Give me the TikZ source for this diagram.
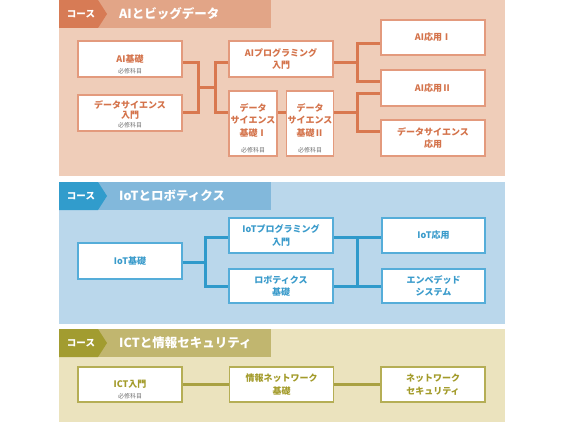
\documentclass[tikz,border=0pt]{standalone}
\usepackage{fontspec}
\setmainfont{Noto Sans CJK JP}
\usepackage{tikz}

\definecolor{aibg}{HTML}{EFCDB9}
\definecolor{aihead}{HTML}{E2A587}
\definecolor{aitab}{HTML}{D77B55}
\definecolor{aiwire}{HTML}{D9784F}
\definecolor{aiborder}{HTML}{E39A7D}
\definecolor{aitext}{HTML}{D4734B}
\definecolor{iotbg}{HTML}{BAD7EB}
\definecolor{iothead}{HTML}{82B8DB}
\definecolor{iottab}{HTML}{319CCC}
\definecolor{iotwire}{HTML}{2F9ACB}
\definecolor{iotborder}{HTML}{55ADD9}
\definecolor{iottext}{HTML}{3A9BCB}
\definecolor{ictbg}{HTML}{EBE3BE}
\definecolor{icthead}{HTML}{C1B66F}
\definecolor{icttab}{HTML}{A29C30}
\definecolor{ictwire}{HTML}{A9A142}
\definecolor{ictborder}{HTML}{B5AE55}
\definecolor{icttext}{HTML}{A39B2A}
\definecolor{reqgray}{HTML}{707070}

\begin{document}
\begin{tikzpicture}[x=1pt, y=-1pt,
    course/.style={draw=#1border, fill=white, line width=1.2pt, text=#1text,
      font=\fontsize{9}{12.5}\selectfont\bfseries, align=center, inner sep=1pt,
      minimum width=104pt, minimum height=36pt},
    wire/.style={draw=#1wire, line width=3pt},
    req/.style={font=\fontsize{6}{7}\selectfont, text=reqgray, inner sep=1pt},
    tablabel/.style={text=white, font=\fontsize{9.5}{10}\selectfont\bfseries, inner sep=0pt},
    titlelabel/.style={text=white, font=\fontsize{12.5}{14}\selectfont\bfseries, anchor=west, inner sep=0pt}]
    \useasboundingbox (0,0) rectangle (564,422);

    % Panels
    \fill[aibg] (59,0) rectangle (505,176);
    \fill[iotbg] (59,182) rectangle (505,324);
    \fill[ictbg] (59,329) rectangle (505,422);

    % Headers
    \fill[aihead] (59,0) rectangle (271,28);
    \fill[aitab] (59,0) -- (98,0) -- (107,14) -- (98,28) -- (59,28) -- cycle;
    \node[tablabel] (aitag) at (81,14) {コース};
    \node[titlelabel] (aititle) at (119,14) {AIとビッグデータ};

    \fill[iothead] (59,182) rectangle (271,210);
    \fill[iottab] (59,182) -- (98,182) -- (107,196) -- (98,210) -- (59,210) -- cycle;
    \node[tablabel] (iottag) at (81,196) {コース};
    \node[titlelabel] (iottitle) at (119,196) {IoTとロボティクス};

    \fill[icthead] (59,329) rectangle (271,357);
    \fill[icttab] (59,329) -- (98,329) -- (107,343) -- (98,357) -- (59,357) -- cycle;
    \node[tablabel] (icttag) at (81,343) {コース};
    \node[titlelabel] (icttitle) at (119,343) {ICTと情報セキュリティ};

    % AI and big data
    \node[course=ai, label={[req, anchor=south, yshift=2pt]south:必修科目}] (aibase) at (130,59) {AI基礎};
    \node[course=ai, text depth=7pt, label={[req, anchor=south, yshift=2pt]south:必修科目}] (dsintro) at (130,113) {データサイエンス\\[-3pt]入門};
    \node[course=ai] (aiprog) at (281,59) {AIプログラミング\\入門};
    \node[course=ai, minimum width=48pt, minimum height=65pt, text depth=7pt,
      label={[req, anchor=south, yshift=2pt]south:必修科目}] (dsbasic1) at (253,123.5) {データ\\サイエンス\\基礎Ⅰ};
    \node[course=ai, minimum width=46pt, minimum height=65pt, text depth=7pt,
      label={[req, anchor=south, yshift=2pt]south:必修科目}] (dsbasic2) at (310,123.5) {データ\\サイエンス\\基礎Ⅱ};
    \node[course=ai, minimum height=35pt] (aiapp1) at (433,37.5) {AI応用Ⅰ};
    \node[course=ai] (aiapp2) at (433,88) {AI応用Ⅱ};
    \node[course=ai] (dsapp) at (433,138) {データサイエンス\\応用};

    \coordinate (aijoin) at (198,88);
    \coordinate (aisplit) at (215,88);
    \coordinate (aitop) at (357,63);
    \coordinate (aibottom) at (357,113);
    \draw[wire=ai] ([yshift=-4pt]aibase.east) -| (aijoin) |- (dsintro.east);
    \draw[wire=ai] (aijoin) -- (aisplit);
    \draw[wire=ai] ([yshift=-4pt]aiprog.west) -| (aisplit) |- ([yshift=10.5pt]dsbasic1.west);
    \draw[wire=ai] ([yshift=10.5pt]dsbasic1.east) -- ([yshift=10.5pt]dsbasic2.west);
    \draw[wire=ai] ([yshift=-4pt]aiprog.east) -- (aitop);
    \draw[wire=ai] ([yshift=-6.5pt]aiapp1.west) -| (aitop) |- ([yshift=6pt]aiapp2.west);
    \draw[wire=ai] ([yshift=10.5pt]dsbasic2.east) -- (aibottom);
    \draw[wire=ai] ([yshift=-6pt]aiapp2.west) -| (aibottom) |- ([yshift=6pt]dsapp.west);

    % IoT and robotics
    \node[course=iot] (iotbase) at (130,261) {IoT基礎};
    \node[course=iot, minimum height=35pt] (iotprog) at (281,235.5) {IoTプログラミング\\入門};
    \node[course=iot, minimum height=34pt] (robotics) at (281,286) {ロボティクス\\基礎};
    \node[course=iot, minimum width=103pt, minimum height=35pt] (iotapp) at (433.5,235.5) {IoT応用};
    \node[course=iot, minimum width=103pt, minimum height=34pt] (embedded) at (433.5,286) {エンベデッド\\システム};

    \coordinate (iotjoin) at (205,262);
    \coordinate (iottop) at (357,237);
    \coordinate (iotbottom) at (357,286);
    \draw[wire=iot] ([yshift=-1pt]iotbase.east) -- (iotjoin);
    \draw[wire=iot] ([yshift=-1.5pt]iotprog.west) -| (iotjoin) |- (robotics.west);
    \draw[wire=iot] ([yshift=-1.5pt]iotprog.east) -- ([yshift=-1.5pt]iotapp.west);
    \draw[wire=iot] (robotics.east) -- (embedded.west);
    \draw[wire=iot] (iottop) -- (iotbottom);

    % ICT and information security
    \node[course=ict, minimum height=35pt, label={[req, anchor=south, yshift=2pt]south:必修科目}] (ictintro) at (130,384.5) {ICT入門};
    \node[course=ict, minimum height=35pt] (infonet) at (281.5,384.5) {情報ネットワーク\\基礎};
    \node[course=ict, minimum height=35pt] (netsec) at (433,384.5) {ネットワーク\\セキュリティ};

    \draw[wire=ict] (ictintro) -- (infonet);
    \draw[wire=ict] (infonet) -- (netsec);
\end{tikzpicture}
\end{document}
